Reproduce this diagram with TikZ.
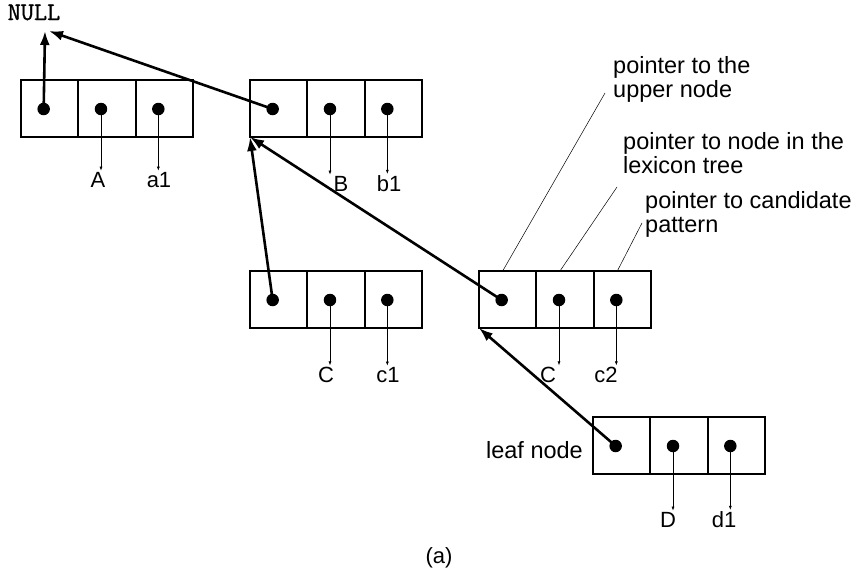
\documentclass[tikz,border=0pt]{standalone}
\usepackage{fontspec}
\setmainfont{Liberation Sans}
\newfontfamily\nullfnt[FakeBold=1.2]{Latin Modern Mono}
\usetikzlibrary{arrows.meta}
\newcommand\mkrecord[3]{%
  \foreach \i/\s in {1/a,2/b,3/c} {%
    \node[cell] (#1\s) at ({#2+57.33*(\i-0.5)},{#3+28.5}) {};
    \node[dot] (#1\s d) at ({#2+57.33*(\i-0.5)-6},{#3+29}) {};
  }}
\begin{document}
\begin{tikzpicture}[x=1pt,y=-1pt,
  cell/.style={draw,line width=2pt,minimum width=57.33pt,minimum height=57pt,inner sep=0pt,outer sep=0pt},
  dot/.style={circle,fill,inner sep=0pt,minimum size=12.5pt},
  lab/.style={font=\fontsize{22}{24}\selectfont,inner sep=1pt,anchor=base},
  note/.style={font=\fontsize{23.5}{23.5}\selectfont,align=left,anchor=base west,inner sep=0pt},
  thinarr/.style={line width=0.6pt,-{Latex[length=4pt,width=3pt]}},
  boldarr/.style={line width=2.6pt,-{Latex[length=14pt,width=10pt]}},
  leader/.style={line width=0.5pt}]
\useasboundingbox (0,0) rectangle (862,573);

\mkrecord{ra}{21}{80}
\mkrecord{rb}{250}{80}
\mkrecord{rc}{250}{271}
\mkrecord{rd}{479}{271}
\mkrecord{re}{593}{417}

% NULL
\node[font=\nullfnt\fontsize{25.5}{25.5}\selectfont,anchor=base,inner sep=0pt] (null) at (34,20) {NULL};
\coordinate (nullv) at (45,31);
\coordinate (nulls) at (49,31);

% value labels
\node[lab] (lA) at (98,187) {A};
\node[lab] (la1) at (159,187) {a1};
\node[lab] (lB) at (341,191) {B};
\node[lab] (lb1) at (389,191) {b1};
\node[lab] (lC1) at (326,382) {C};
\node[lab] (lc1) at (388,382) {c1};
\node[lab] (lC2) at (548,382) {C};
\node[lab] (lc2) at (606,382) {c2};
\node[lab] (lD) at (668,527) {D};
\node[lab] (ld1) at (724,527) {d1};

\draw[thinarr] (rabd.center) -- (rabd |- lA.north);
\draw[thinarr] (racd.center) -- (racd |- la1.north);
\draw[thinarr] (rbbd.center) -- (rbbd |- lB.north);
\draw[thinarr] (rbcd.center) -- (rbcd |- lb1.north);
\draw[thinarr] (rcbd.center) -- (rcbd |- lC1.north);
\draw[thinarr] (rccd.center) -- (rccd |- lc1.north);
\draw[thinarr] (rdbd.center) -- (rdbd |- lC2.north);
\draw[thinarr] (rdcd.center) -- (rdcd |- lc2.north);
\draw[thinarr] (rebd.center) -- (rebd |- lD.north);
\draw[thinarr] (recd.center) -- (recd |- ld1.north);

% bold pointers
\draw[boldarr] (raad.center) -- (nullv);
\draw[boldarr] (rbad.center) -- (nulls);
\draw[boldarr] (rcad.center) -- (rba.south west);
\draw[boldarr] (rdad.center) -- (rba.south west);
\draw[boldarr] (read.center) -- (rda.south west);

% annotations
\node[note] (n1) at (613,97) {pointer to the\\upper node};
\node[note] (n2) at (623,173) {pointer to node in the\\lexicon tree};
\node[note] (n3) at (645,232) {pointer to candidate\\pattern};
\coordinate (l1) at (605,93);
\coordinate (l2) at (617,187);
\coordinate (l3) at (642,223);
\draw[leader] ([xshift=-5pt]rda.north) -- (l1);
\draw[leader] ([xshift=-5pt]rdb.north) -- (l2);
\draw[leader] ([xshift=-5pt]rdc.north) -- (l3);

\node[note,anchor=base east] (leaf) at (583,458) {leaf node};
\node[lab] (cap) at (439,563) {(a)};
\end{tikzpicture}
\end{document}
